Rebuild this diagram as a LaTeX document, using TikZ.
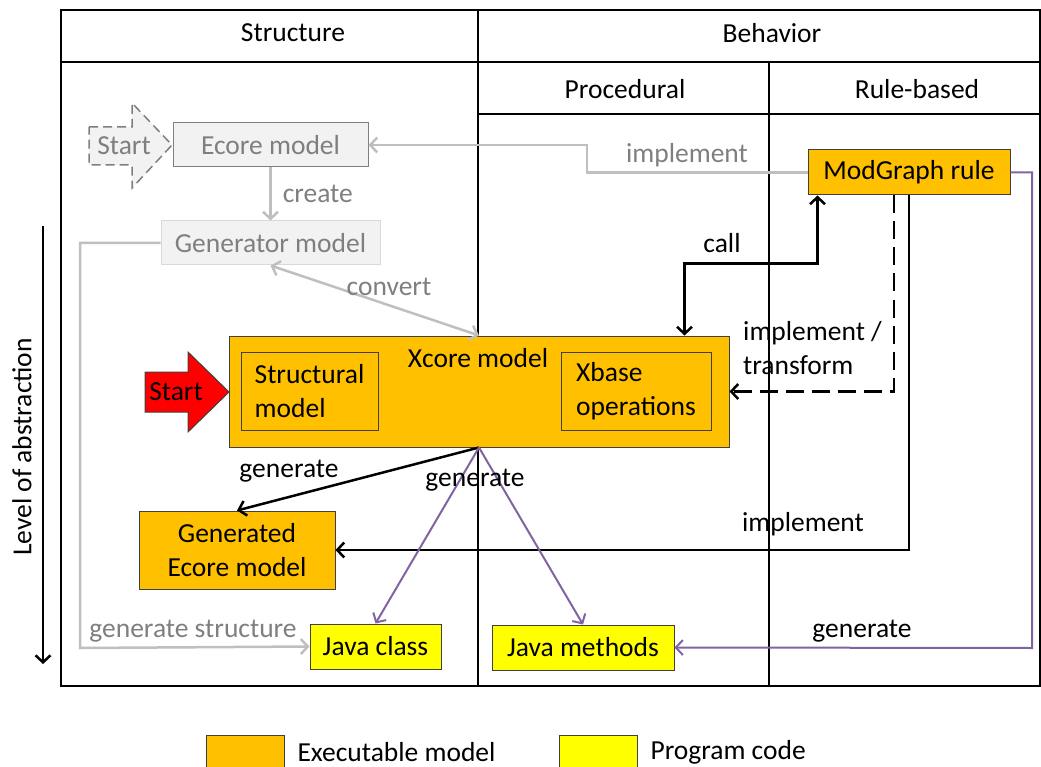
\documentclass[tikz,border=0pt]{standalone}
\usepackage{fontspec}
\setmainfont{Carlito}
\usetikzlibrary{arrows.meta}

\definecolor{execfill}{HTML}{FFC000}
\definecolor{codefill}{HTML}{FFFF00}
\definecolor{startred}{HTML}{FF0000}
\definecolor{genpurple}{HTML}{8064A2}
\definecolor{ghostfill}{HTML}{F2F2F2}
\definecolor{ghosttext}{HTML}{7F7F7F}
\definecolor{ghostline}{HTML}{BFBFBF}
\definecolor{boxline}{HTML}{404040}

\begin{document}
\begin{tikzpicture}[
  x=1pt, y=-1pt,
  font=\fontsize{27.5}{34}\selectfont,
  >={Straight Barb[length=7pt,width=15pt]},
  box/.style={draw=boxline, line width=1pt, inner sep=0pt, align=center},
  exec/.style={box, fill=execfill},
  code/.style={box, fill=codefill},
  ghost/.style={box, fill=ghostfill, draw=ghosttext, text=ghosttext},
  blk/.style={line width=2.5pt, ->},
  purp/.style={line width=2pt, draw=genpurple, ->},
  grey/.style={line width=2.5pt, draw=ghostline, ->},
  lbl/.style={inner sep=1pt},
  greylbl/.style={lbl, text=ghosttext},
  grid/.style={line width=1.5pt},
]
\useasboundingbox (0,0) rectangle (1041,767);

% table
\draw[grid] (61,10) rectangle (1040,686);
\draw[grid] (61,62) -- (1040,62);
\draw[grid] (478,114) -- (1040,114);
\draw[grid] (478,10) -- (478,686);
\draw[grid] (769,62) -- (769,686);

\node (hstruct) at (293,33) {Structure};
\node (hbehav)  at (772,33) {Behavior};
\node (hproc)   at (625,89) {Procedural};
\node (hrule)   at (917,89) {Rule-based};

% level of abstraction
\coordinate (abstop) at (43,226);
\coordinate (absbot) at (43,664);
\draw[blk] (abstop) -- (absbot);
\node[rotate=90] (abslbl) at (22,447) {Level of abstraction};

% grey part
\draw[ghost, dashed, line width=1.5pt, dash pattern=on 9pt off 5pt]
  (89,127) -- (132,127) -- (132,103) -- (172,145) -- (132,188) -- (132,165) -- (89,165) -- cycle;
\node[text=ghosttext] (ghoststart) at (124,146) {Start};

\node[ghost, minimum width=195pt, minimum height=44pt] (ecore) at (270.5,145) {Ecore model};
\node[ghost, draw=ghostline!60, minimum width=219pt, minimum height=44pt] (genmod) at (270.5,243) {Generator model};

% xcore
\node[exec, minimum width=500pt, minimum height=111pt] (xcore) at (479,391.5) {};
\node (xcorelbl) at (478,358) {Xcore model};
\node[exec, align=left, minimum width=137pt, minimum height=78pt] (struct) at (309.5,391) {Structural\\model};
\node[exec, align=left, minimum width=150pt, minimum height=78pt] (xbase) at (636,391) {Xbase\\operations};

\draw[boxline, fill=startred, line width=1pt]
  (145,372) -- (188,372) -- (188,352) -- (229,392) -- (188,432) -- (188,412) -- (145,412) -- cycle;
\node (start) at (176,392) {Start};

\node[exec, minimum width=202pt, minimum height=45pt] (modgraph) at (909,172.5) {ModGraph rule};
\node[exec, minimum width=196pt, minimum height=78pt] (gen) at (237,550) {Generated\\Ecore model};
\node[code, minimum width=131pt, minimum height=45pt] (jclass) at (375.5,646.5) {Java class};
\node[code, minimum width=182pt, minimum height=45pt] (jmeth) at (583,647.5) {Java methods};

% grey connectors
\draw[grey] (ecore) -- node[greylbl, right=10pt] {create} (genmod);
\draw[grey, <->] (genmod.south) -- (xcore.north);
\node[greylbl] (convlbl) at (389,287) {convert};
\draw[grey] (modgraph.west) -| (587,145) -- (ecore.east);
\node[greylbl] (implgrey) at (687,155) {implement};
\draw[grey] (genmod.west) -| (80,648) -- (jclass.west);
\node[greylbl] (genstruct) at (193,631) {generate structure};

% black connectors
\draw[blk, <->] ([xshift=10pt]modgraph.south west) -- ++(0,68) -| ([xshift=-45pt]xcore.north east);
\node[lbl] (calllbl) at (722,243) {call};
\draw[blk, dashed, dash pattern=on 18pt off 8pt] ([xshift=-15pt]modgraph.south) |- (xcore.east);
\node[lbl, align=left, anchor=west] (impltrans) at (742,348) {implement /\\transform};
\draw[blk] (modgraph.south) |- (gen.east);
\node[lbl] (impllbl) at (803,524) {implement};
\draw[blk] (xcore.south) -- (gen.north);
\node[lbl] (genlbl) at (289,471) {generate};

% purple connectors
\draw[purp] (xcore.south) -- (jclass.north);
\draw[purp] (xcore.south) -- (jmeth.north);
\node[lbl] (genlbl2) at (475,480) {generate};
\draw[purp] (modgraph.east) -| (1032,648) -- (jmeth.east);
\node[lbl] (genlbl3) at (862,631) {generate};

% legend
\node[exec, minimum width=78pt, minimum height=40pt] (legexec) at (245,755) {};
\node[anchor=west] (legexectxt) at (294,752) {Executable model};
\node[code, minimum width=78pt, minimum height=40pt] (legcode) at (598,755) {};
\node[anchor=west] (legcodetxt) at (647,752) {Program code};
\end{tikzpicture}
\end{document}
